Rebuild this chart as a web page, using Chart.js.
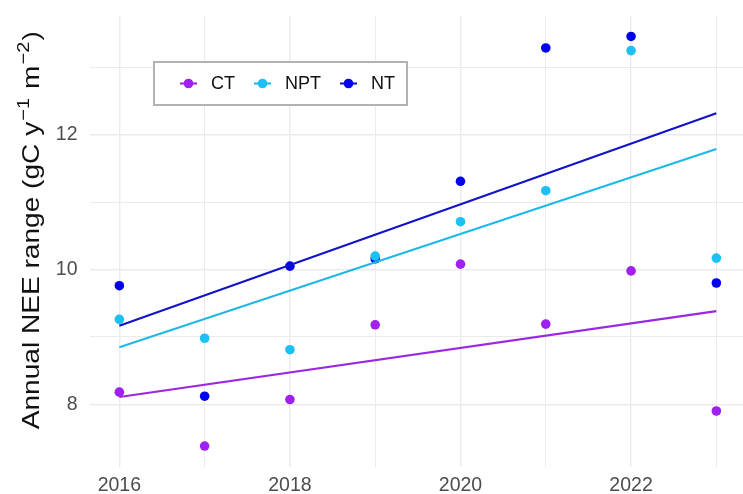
<!DOCTYPE html>
<html>
<head>
<meta charset="utf-8">
<script src="https://cdn.jsdelivr.net/npm/chart.js@4.4.1/dist/chart.umd.min.js"></script>
<style>
  html, body { margin: 0; padding: 0; background: #fff; overflow: hidden; }
  #wrap { width: 743px; height: 494px; overflow: hidden; }
</style>
</head>
<body>
<div id="wrap"><canvas id="c" width="751" height="494"></canvas></div>
<script>
// Annual NEE range per tillage treatment, 2016-2023
const years = [2016, 2017, 2018, 2019, 2020, 2021, 2022, 2023];
const ctValues  = [8.18, 7.38, 8.07, 9.18, 10.08, 9.19, 9.98, 7.90];
const nptValues = [9.26, 8.98, 8.81, 10.20, 10.71, 11.17, 13.25, 10.17];
const ntValues  = [9.76, 8.12, 10.05, 10.16, 11.31, 13.29, 13.46, 9.80];
const seriesNames = ['CT', 'NPT', 'NT'];
const xTickLabels = [2016, 2018, 2020, 2022];
const yTickLabels = [8, 10, 12];

const FONT = '"Liberation Sans", Arial, Helvetica, sans-serif';
const pointColors = { CT: '#A020F0', NPT: '#1CC0F2', NT: '#0000F0' };
const lineColors  = { CT: '#9B27E3', NPT: '#1DB8EA', NT: '#1212C8' };
const valuesBySeries = { CT: ctValues, NPT: nptValues, NT: ntValues };

// ordinary least squares trend over the years
function trend(xs, ys) {
  const n = xs.length;
  const mx = xs.reduce((a, b) => a + b, 0) / n;
  const my = ys.reduce((a, b) => a + b, 0) / n;
  let sxy = 0, sxx = 0;
  for (let i = 0; i < n; i++) { sxy += (xs[i] - mx) * (ys[i] - my); sxx += (xs[i] - mx) ** 2; }
  const b = sxy / sxx, a = my - b * mx;
  const x0 = xs[0], x1 = xs[n - 1];
  return [{ x: x0, y: a + b * x0 }, { x: x1, y: a + b * x1 }];
}

// 5% padding around the data range on both axes
const allVals = ctValues.concat(nptValues, ntValues);
const yLo = Math.min(...allVals), yHi = Math.max(...allVals);
const yPad = 0.05 * (yHi - yLo);
const xPad = 0.05 * (years[years.length - 1] - years[0]);

const pointOrder = { NPT: 1, NT: 2, CT: 3 };
const datasets = [];
seriesNames.forEach(name => {
  datasets.push({
    label: name + ' trend',
    data: trend(years, valuesBySeries[name]),
    showLine: true,
    borderColor: lineColors[name],
    borderWidth: 2.1,
    pointRadius: 0,
    order: 0
  });
});
seriesNames.forEach(name => {
  datasets.push({
    label: name,
    data: years.map((yr, i) => ({ x: yr, y: valuesBySeries[name][i] })),
    showLine: false,
    backgroundColor: pointColors[name],
    borderWidth: 0,
    pointRadius: 4.8,
    pointHoverRadius: 4.8,
    order: pointOrder[name]
  });
});

const isMajor = (v, list) => list.includes(Math.round(v)) && Math.abs(v - Math.round(v)) < 1e-6;

// legend drawn inside the panel, in a framed white box
const boxLegend = {
  id: 'boxLegend',
  afterDatasetsDraw(chart) {
    const ctx = chart.ctx;
    const bx = 154, by = 62, bh = 43;
    const keyW = 17, padL = 26, keyGap = 14, itemGap = 19, padR = 12;
    ctx.save();
    ctx.font = '18px ' + FONT;
    let w = padL;
    seriesNames.forEach((n, i) => {
      w += keyW + keyGap + ctx.measureText(n).width + (i < seriesNames.length - 1 ? itemGap : padR);
    });
    ctx.fillStyle = '#ffffff';
    ctx.fillRect(bx, by, w, bh);
    ctx.strokeStyle = '#B3B3B3';
    ctx.lineWidth = 2;
    ctx.strokeRect(bx, by, w, bh);
    const cy = by + bh / 2;
    let x = bx + padL;
    seriesNames.forEach(n => {
      ctx.strokeStyle = lineColors[n];
      ctx.lineWidth = 2.1;
      ctx.beginPath(); ctx.moveTo(x, cy); ctx.lineTo(x + keyW, cy); ctx.stroke();
      ctx.fillStyle = pointColors[n];
      ctx.beginPath(); ctx.arc(x + keyW / 2, cy, 4.8, 0, Math.PI * 2); ctx.fill();
      x += keyW + keyGap;
      ctx.fillStyle = '#111111';
      ctx.textAlign = 'left';
      ctx.textBaseline = 'middle';
      ctx.fillText(n, x, cy + 1);
      x += ctx.measureText(n).width + itemGap;
    });
    ctx.restore();
  }
};

// vertical axis title with raised exponents
const yTitle = {
  id: 'yTitle',
  afterDraw(chart) {
    const ctx = chart.ctx;
    const area = chart.chartArea;
    const size = 24, supSize = 17, stretch = 1.17;
    const runs = [
      { t: 'Annual NEE range (gC y', s: false },
      { t: '\u2212' + '1', s: true },
      { t: ' m', s: false },
      { t: '\u2212' + '2', s: true },
      { t: ')', s: false }
    ];
    ctx.save();
    let total = 0;
    runs.forEach(r => {
      ctx.font = (r.s ? supSize : size) + 'px ' + FONT;
      r.w = ctx.measureText(r.t).width + (r.s ? 2 : 0);
      total += r.w;
    });
    ctx.translate(39, (area.top + area.bottom) / 2 - 11);
    ctx.rotate(-Math.PI / 2);
    ctx.scale(stretch, 1);
    ctx.fillStyle = '#111111';
    ctx.textBaseline = 'alphabetic';
    ctx.textAlign = 'left';
    let x = -total / 2;
    runs.forEach(r => {
      ctx.font = (r.s ? supSize : size) + 'px ' + FONT;
      ctx.fillText(r.t, x + (r.s ? 1 : 0), r.s ? -10 : 0);
      x += r.w;
    });
    ctx.restore();
  }
};

new Chart(document.getElementById('c'), {
  type: 'scatter',
  data: { datasets },
  options: {
    responsive: false,
    devicePixelRatio: 1,
    animation: false,
    layout: { padding: { top: 16, right: 0, bottom: 0, left: 0 } },
    plugins: { legend: { display: false }, tooltip: { enabled: false } },
    scales: {
      x: {
        type: 'linear',
        min: years[0] - xPad,
        max: years[years.length - 1] + xPad,
        border: { display: false },
        grid: {
          drawTicks: false,
          color: '#EBEBEB',
          lineWidth: c => isMajor(c.tick.value, xTickLabels) ? 1.4 : 1
        },
        ticks: {
          stepSize: 1,
          includeBounds: false,
          autoSkip: false,
          maxRotation: 0,
          padding: 7,
          color: '#4D4D4D',
          font: { family: FONT, size: 19.5 },
          callback: v => isMajor(v, xTickLabels) ? String(Math.round(v)) : ''
        },
        afterFit: s => { s.height = 27.5; s.paddingLeft = 0; s.paddingRight = 0; }
      },
      y: {
        type: 'linear',
        min: yLo - yPad,
        max: yHi + yPad,
        border: { display: false },
        grid: {
          drawTicks: false,
          color: '#EBEBEB',
          lineWidth: c => isMajor(c.tick.value, yTickLabels) ? 1.4 : 1
        },
        ticks: {
          stepSize: 1,
          includeBounds: false,
          autoSkip: false,
          padding: 12,
          color: '#4D4D4D',
          font: { family: FONT, size: 19.5 },
          callback: v => isMajor(v, yTickLabels) ? String(Math.round(v)) : ''
        },
        afterFit: s => { s.width = 89.5; s.paddingTop = 0; s.paddingBottom = 0; }
      }
    }
  },
  plugins: [boxLegend, yTitle]
});
</script>
</body>
</html>
